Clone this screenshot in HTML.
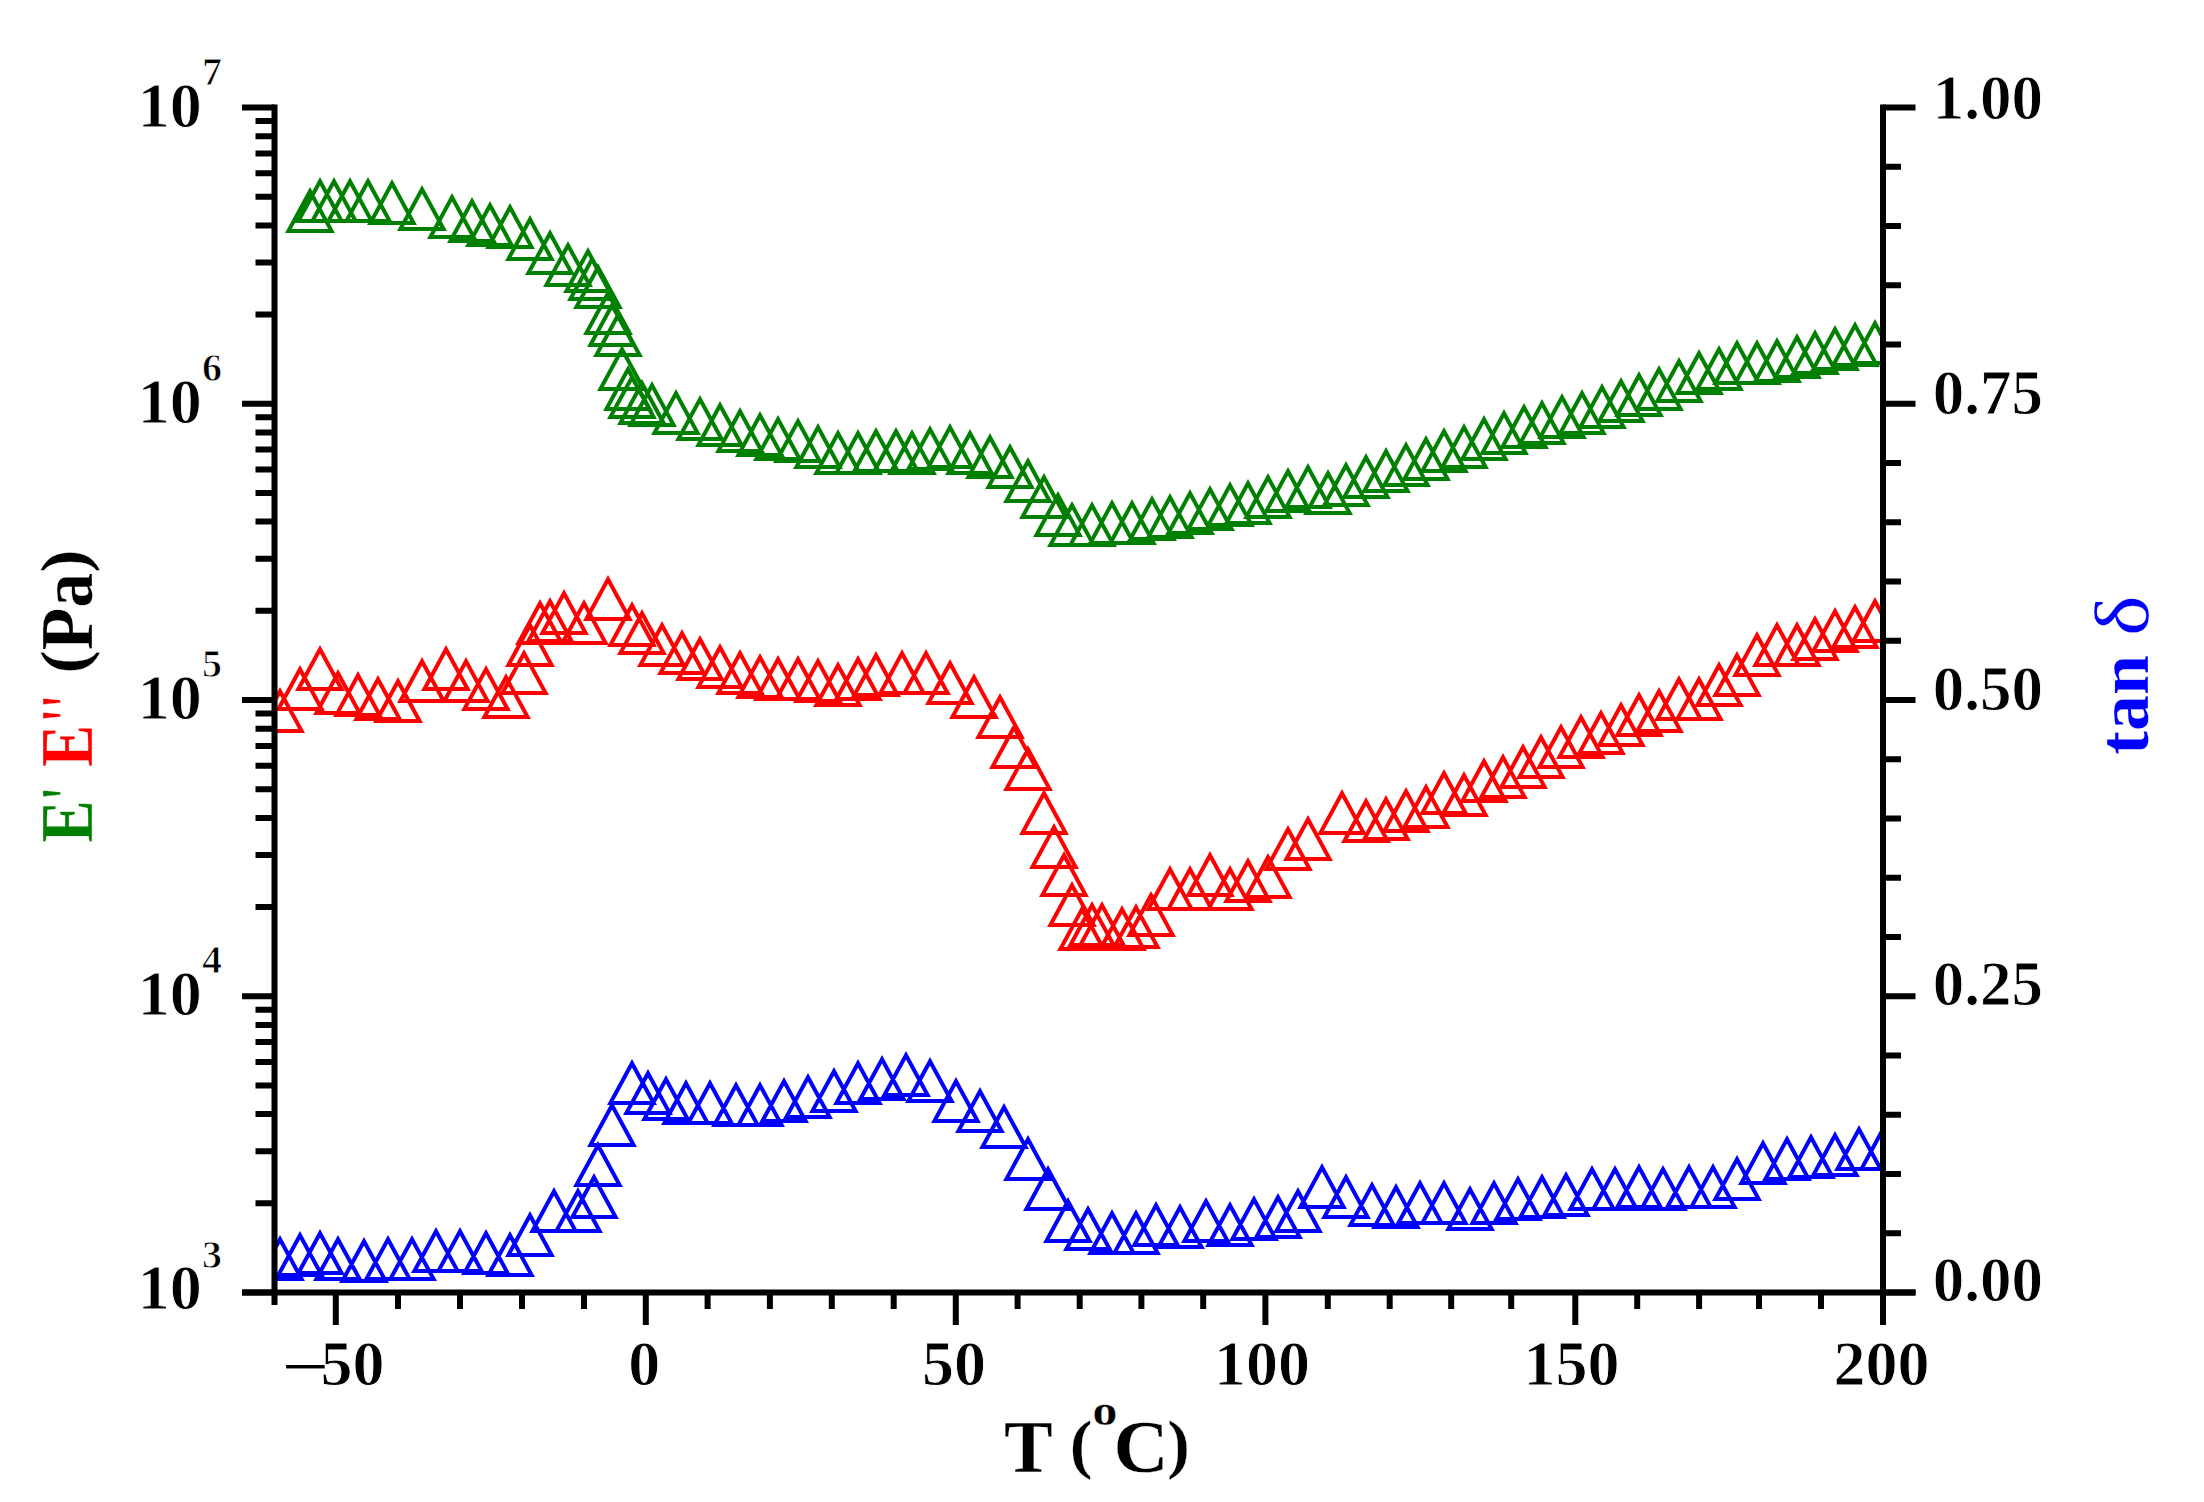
<!DOCTYPE html>
<html lang="en"><head><meta charset="utf-8"><title>E' E'' and tan δ vs T</title>
<style>html,body{margin:0;padding:0;background:#fff}body{width:2204px;height:1502px;overflow:hidden}svg{display:block}text{font-family:"Liberation Serif","DejaVu Serif",serif;font-weight:bold;stroke:#fff;stroke-width:.9px;paint-order:fill stroke}.ttl text{stroke-width:.3px}</style></head><body>
<svg width="2204" height="1502" viewBox="0 0 2204 1502">
<rect width="2204" height="1502" fill="#fff"/>
<defs><clipPath id="plot"><rect x="274.5" y="107.5" width="1608.5" height="1185.0"/></clipPath></defs>
<g clip-path="url(#plot)" fill="none" stroke-width="4.0" stroke-linejoin="miter">
<path stroke="#0000ff" d="M280.0 1239.2L258.4 1279.0L301.6 1279.0ZM300.0 1235.2L278.4 1275.0L321.6 1275.0ZM320.0 1233.2L298.4 1273.0L341.6 1273.0ZM338.0 1239.2L316.4 1279.0L359.6 1279.0ZM364.0 1241.2L342.4 1281.0L385.6 1281.0ZM388.0 1239.2L366.4 1279.0L409.6 1279.0ZM412.0 1239.2L390.4 1279.0L433.6 1279.0ZM436.0 1231.2L414.4 1271.0L457.6 1271.0ZM460.0 1231.2L438.4 1271.0L481.6 1271.0ZM486.0 1233.2L464.4 1273.0L507.6 1273.0ZM510.0 1235.2L488.4 1275.0L531.6 1275.0ZM530.0 1215.2L508.4 1255.0L551.6 1255.0ZM554.0 1191.2L532.4 1231.0L575.6 1231.0ZM578.0 1191.2L556.4 1231.0L599.6 1231.0ZM594.0 1177.2L572.4 1217.0L615.6 1217.0ZM598.0 1145.2L576.4 1185.0L619.6 1185.0ZM612.0 1105.2L590.4 1145.0L633.6 1145.0ZM632.0 1063.2L610.4 1103.0L653.6 1103.0ZM648.0 1073.2L626.4 1113.0L669.6 1113.0ZM666.0 1079.2L644.4 1119.0L687.6 1119.0ZM686.0 1083.2L664.4 1123.0L707.6 1123.0ZM710.0 1083.2L688.4 1123.0L731.6 1123.0ZM736.0 1085.2L714.4 1125.0L757.6 1125.0ZM760.0 1085.2L738.4 1125.0L781.6 1125.0ZM784.0 1081.2L762.4 1121.0L805.6 1121.0ZM808.0 1077.2L786.4 1117.0L829.6 1117.0ZM834.0 1071.2L812.4 1111.0L855.6 1111.0ZM858.0 1063.2L836.4 1103.0L879.6 1103.0ZM882.0 1059.2L860.4 1099.0L903.6 1099.0ZM906.0 1055.2L884.4 1095.0L927.6 1095.0ZM930.0 1061.2L908.4 1101.0L951.6 1101.0ZM956.0 1081.2L934.4 1121.0L977.6 1121.0ZM980.0 1091.2L958.4 1131.0L1001.6 1131.0ZM1004.0 1107.2L982.4 1147.0L1025.6 1147.0ZM1028.0 1139.2L1006.4 1179.0L1049.6 1179.0ZM1048.0 1169.2L1026.4 1209.0L1069.6 1209.0ZM1068.0 1201.2L1046.4 1241.0L1089.6 1241.0ZM1088.0 1209.2L1066.4 1249.0L1109.6 1249.0ZM1112.0 1213.2L1090.4 1253.0L1133.6 1253.0ZM1136.0 1213.2L1114.4 1253.0L1157.6 1253.0ZM1156.0 1205.2L1134.4 1245.0L1177.6 1245.0ZM1180.0 1207.2L1158.4 1247.0L1201.6 1247.0ZM1206.0 1201.2L1184.4 1241.0L1227.6 1241.0ZM1230.0 1205.2L1208.4 1245.0L1251.6 1245.0ZM1254.0 1199.2L1232.4 1239.0L1275.6 1239.0ZM1278.0 1197.2L1256.4 1237.0L1299.6 1237.0ZM1298.0 1191.2L1276.4 1231.0L1319.6 1231.0ZM1322.0 1167.2L1300.4 1207.0L1343.6 1207.0ZM1346.0 1177.2L1324.4 1217.0L1367.6 1217.0ZM1372.0 1185.2L1350.4 1225.0L1393.6 1225.0ZM1396.0 1187.2L1374.4 1227.0L1417.6 1227.0ZM1420.0 1183.2L1398.4 1223.0L1441.6 1223.0ZM1444.0 1183.2L1422.4 1223.0L1465.6 1223.0ZM1470.0 1189.2L1448.4 1229.0L1491.6 1229.0ZM1494.0 1183.2L1472.4 1223.0L1515.6 1223.0ZM1518.0 1179.2L1496.4 1219.0L1539.6 1219.0ZM1542.0 1177.2L1520.4 1217.0L1563.6 1217.0ZM1566.0 1175.2L1544.4 1215.0L1587.6 1215.0ZM1592.0 1169.2L1570.4 1209.0L1613.6 1209.0ZM1615.0 1169.2L1593.4 1209.0L1636.6 1209.0ZM1639.0 1167.2L1617.4 1207.0L1660.6 1207.0ZM1663.0 1169.2L1641.4 1209.0L1684.6 1209.0ZM1689.0 1167.2L1667.4 1207.0L1710.6 1207.0ZM1713.0 1167.2L1691.4 1207.0L1734.6 1207.0ZM1737.0 1159.2L1715.4 1199.0L1758.6 1199.0ZM1763.0 1143.2L1741.4 1183.0L1784.6 1183.0ZM1787.0 1139.2L1765.4 1179.0L1808.6 1179.0ZM1811.0 1137.2L1789.4 1177.0L1832.6 1177.0ZM1835.0 1135.2L1813.4 1175.0L1856.6 1175.0ZM1859.0 1129.2L1837.4 1169.0L1880.6 1169.0ZM1883.0 1129.2L1861.4 1169.0L1904.6 1169.0Z"/>
<path stroke="#ff0000" d="M280.0 691.2L258.4 731.0L301.6 731.0ZM300.0 669.2L278.4 709.0L321.6 709.0ZM320.0 649.2L298.4 689.0L341.6 689.0ZM338.0 673.2L316.4 713.0L359.6 713.0ZM358.0 675.2L336.4 715.0L379.6 715.0ZM378.0 679.2L356.4 719.0L399.6 719.0ZM398.0 681.2L376.4 721.0L419.6 721.0ZM422.0 661.2L400.4 701.0L443.6 701.0ZM446.0 649.2L424.4 689.0L467.6 689.0ZM466.0 661.2L444.4 701.0L487.6 701.0ZM486.0 669.2L464.4 709.0L507.6 709.0ZM506.0 677.2L484.4 717.0L527.6 717.0ZM524.0 653.2L502.4 693.0L545.6 693.0ZM530.0 625.2L508.4 665.0L551.6 665.0ZM540.0 603.2L518.4 643.0L561.6 643.0ZM550.0 601.2L528.4 641.0L571.6 641.0ZM564.0 593.2L542.4 633.0L585.6 633.0ZM584.0 603.2L562.4 643.0L605.6 643.0ZM608.0 579.2L586.4 619.0L629.6 619.0ZM632.0 605.2L610.4 645.0L653.6 645.0ZM642.0 613.2L620.4 653.0L663.6 653.0ZM662.0 625.2L640.4 665.0L683.6 665.0ZM682.0 633.2L660.4 673.0L703.6 673.0ZM700.0 639.2L678.4 679.0L721.6 679.0ZM720.0 647.2L698.4 687.0L741.6 687.0ZM740.0 653.2L718.4 693.0L761.6 693.0ZM760.0 657.2L738.4 697.0L781.6 697.0ZM778.0 659.2L756.4 699.0L799.6 699.0ZM798.0 659.2L776.4 699.0L819.6 699.0ZM818.0 661.2L796.4 701.0L839.6 701.0ZM838.0 665.2L816.4 705.0L859.6 705.0ZM858.0 659.2L836.4 699.0L879.6 699.0ZM876.0 655.2L854.4 695.0L897.6 695.0ZM902.0 653.2L880.4 693.0L923.6 693.0ZM926.0 653.2L904.4 693.0L947.6 693.0ZM950.0 663.2L928.4 703.0L971.6 703.0ZM974.0 677.2L952.4 717.0L995.6 717.0ZM1000.0 697.2L978.4 737.0L1021.6 737.0ZM1014.0 727.2L992.4 767.0L1035.6 767.0ZM1028.0 749.2L1006.4 789.0L1049.6 789.0ZM1044.0 793.2L1022.4 833.0L1065.6 833.0ZM1054.0 827.2L1032.4 867.0L1075.6 867.0ZM1064.0 855.2L1042.4 895.0L1085.6 895.0ZM1072.0 885.2L1050.4 925.0L1093.6 925.0ZM1082.0 909.2L1060.4 949.0L1103.6 949.0ZM1092.0 905.2L1070.4 945.0L1113.6 945.0ZM1102.0 905.2L1080.4 945.0L1123.6 945.0ZM1122.0 909.2L1100.4 949.0L1143.6 949.0ZM1136.0 907.2L1114.4 947.0L1157.6 947.0ZM1151.0 895.2L1129.4 935.0L1172.6 935.0ZM1170.0 869.2L1148.4 909.0L1191.6 909.0ZM1190.0 869.2L1168.4 909.0L1211.6 909.0ZM1210.0 855.2L1188.4 895.0L1231.6 895.0ZM1230.0 869.2L1208.4 909.0L1251.6 909.0ZM1248.0 861.2L1226.4 901.0L1269.6 901.0ZM1268.0 857.2L1246.4 897.0L1289.6 897.0ZM1288.0 829.2L1266.4 869.0L1309.6 869.0ZM1308.0 819.2L1286.4 859.0L1329.6 859.0ZM1342.0 793.2L1320.4 833.0L1363.6 833.0ZM1366.0 801.2L1344.4 841.0L1387.6 841.0ZM1386.0 799.2L1364.4 839.0L1407.6 839.0ZM1406.0 791.2L1384.4 831.0L1427.6 831.0ZM1426.0 787.2L1404.4 827.0L1447.6 827.0ZM1444.0 773.2L1422.4 813.0L1465.6 813.0ZM1464.0 775.2L1442.4 815.0L1485.6 815.0ZM1484.0 761.2L1462.4 801.0L1505.6 801.0ZM1503.0 757.2L1481.4 797.0L1524.6 797.0ZM1523.0 747.2L1501.4 787.0L1544.6 787.0ZM1541.0 737.2L1519.4 777.0L1562.6 777.0ZM1561.0 727.2L1539.4 767.0L1582.6 767.0ZM1581.0 717.2L1559.4 757.0L1602.6 757.0ZM1601.0 713.2L1579.4 753.0L1622.6 753.0ZM1621.0 705.2L1599.4 745.0L1642.6 745.0ZM1639.0 695.2L1617.4 735.0L1660.6 735.0ZM1659.0 691.2L1637.4 731.0L1680.6 731.0ZM1679.0 679.2L1657.4 719.0L1700.6 719.0ZM1699.0 679.2L1677.4 719.0L1720.6 719.0ZM1719.0 665.2L1697.4 705.0L1740.6 705.0ZM1737.0 655.2L1715.4 695.0L1758.6 695.0ZM1757.0 635.2L1735.4 675.0L1778.6 675.0ZM1777.0 625.2L1755.4 665.0L1798.6 665.0ZM1797.0 625.2L1775.4 665.0L1818.6 665.0ZM1815.0 619.2L1793.4 659.0L1836.6 659.0ZM1835.0 611.2L1813.4 651.0L1856.6 651.0ZM1855.0 607.2L1833.4 647.0L1876.6 647.0ZM1875.0 601.2L1853.4 641.0L1896.6 641.0Z"/>
<path stroke="#008000" d="M310.0 191.2L288.4 231.0L331.6 231.0ZM320.0 181.2L298.4 221.0L341.6 221.0ZM334.0 181.2L312.4 221.0L355.6 221.0ZM350.0 181.2L328.4 221.0L371.6 221.0ZM368.0 181.2L346.4 221.0L389.6 221.0ZM392.0 183.2L370.4 223.0L413.6 223.0ZM422.0 189.2L400.4 229.0L443.6 229.0ZM452.0 197.2L430.4 237.0L473.6 237.0ZM472.0 201.2L450.4 241.0L493.6 241.0ZM490.0 205.2L468.4 245.0L511.6 245.0ZM510.0 207.2L488.4 247.0L531.6 247.0ZM530.0 219.2L508.4 259.0L551.6 259.0ZM550.0 233.2L528.4 273.0L571.6 273.0ZM568.0 245.2L546.4 285.0L589.6 285.0ZM588.0 251.2L566.4 291.0L609.6 291.0ZM592.0 259.2L570.4 299.0L613.6 299.0ZM598.0 267.2L576.4 307.0L619.6 307.0ZM608.0 293.2L586.4 333.0L629.6 333.0ZM612.0 305.2L590.4 345.0L633.6 345.0ZM618.0 315.2L596.4 355.0L639.6 355.0ZM622.0 349.2L600.4 389.0L643.6 389.0ZM628.0 369.2L606.4 409.0L649.6 409.0ZM632.0 377.2L610.4 417.0L653.6 417.0ZM642.0 383.2L620.4 423.0L663.6 423.0ZM652.0 385.2L630.4 425.0L673.6 425.0ZM676.0 393.2L654.4 433.0L697.6 433.0ZM700.0 399.2L678.4 439.0L721.6 439.0ZM720.0 405.2L698.4 445.0L741.6 445.0ZM740.0 411.2L718.4 451.0L761.6 451.0ZM760.0 415.2L738.4 455.0L781.6 455.0ZM778.0 419.2L756.4 459.0L799.6 459.0ZM798.0 421.2L776.4 461.0L819.6 461.0ZM818.0 427.2L796.4 467.0L839.6 467.0ZM838.0 433.2L816.4 473.0L859.6 473.0ZM858.0 433.2L836.4 473.0L879.6 473.0ZM876.0 431.2L854.4 471.0L897.6 471.0ZM896.0 431.2L874.4 471.0L917.6 471.0ZM912.0 433.2L890.4 473.0L933.6 473.0ZM930.0 429.2L908.4 469.0L951.6 469.0ZM950.0 427.2L928.4 467.0L971.6 467.0ZM970.0 433.2L948.4 473.0L991.6 473.0ZM990.0 437.2L968.4 477.0L1011.6 477.0ZM1010.0 447.2L988.4 487.0L1031.6 487.0ZM1028.0 461.2L1006.4 501.0L1049.6 501.0ZM1044.0 477.2L1022.4 517.0L1065.6 517.0ZM1058.0 495.2L1036.4 535.0L1079.6 535.0ZM1072.0 505.2L1050.4 545.0L1093.6 545.0ZM1092.0 505.2L1070.4 545.0L1113.6 545.0ZM1112.0 503.2L1090.4 543.0L1133.6 543.0ZM1132.0 503.2L1110.4 543.0L1153.6 543.0ZM1152.0 499.2L1130.4 539.0L1173.6 539.0ZM1170.0 497.2L1148.4 537.0L1191.6 537.0ZM1190.0 493.2L1168.4 533.0L1211.6 533.0ZM1210.0 489.2L1188.4 529.0L1231.6 529.0ZM1230.0 485.2L1208.4 525.0L1251.6 525.0ZM1248.0 483.2L1226.4 523.0L1269.6 523.0ZM1268.0 477.2L1246.4 517.0L1289.6 517.0ZM1288.0 471.2L1266.4 511.0L1309.6 511.0ZM1308.0 467.2L1286.4 507.0L1329.6 507.0ZM1328.0 473.2L1306.4 513.0L1349.6 513.0ZM1346.0 465.2L1324.4 505.0L1367.6 505.0ZM1366.0 457.2L1344.4 497.0L1387.6 497.0ZM1386.0 451.2L1364.4 491.0L1407.6 491.0ZM1406.0 445.2L1384.4 485.0L1427.6 485.0ZM1426.0 439.2L1404.4 479.0L1447.6 479.0ZM1444.0 431.2L1422.4 471.0L1465.6 471.0ZM1464.0 427.2L1442.4 467.0L1485.6 467.0ZM1484.0 419.2L1462.4 459.0L1505.6 459.0ZM1504.0 413.2L1482.4 453.0L1525.6 453.0ZM1524.0 407.2L1502.4 447.0L1545.6 447.0ZM1542.0 403.2L1520.4 443.0L1563.6 443.0ZM1562.0 397.2L1540.4 437.0L1583.6 437.0ZM1582.0 393.2L1560.4 433.0L1603.6 433.0ZM1602.0 387.2L1580.4 427.0L1623.6 427.0ZM1621.0 381.2L1599.4 421.0L1642.6 421.0ZM1639.0 375.2L1617.4 415.0L1660.6 415.0ZM1659.0 369.2L1637.4 409.0L1680.6 409.0ZM1679.0 361.2L1657.4 401.0L1700.6 401.0ZM1699.0 353.2L1677.4 393.0L1720.6 393.0ZM1719.0 349.2L1697.4 389.0L1740.6 389.0ZM1737.0 343.2L1715.4 383.0L1758.6 383.0ZM1757.0 343.2L1735.4 383.0L1778.6 383.0ZM1777.0 341.2L1755.4 381.0L1798.6 381.0ZM1797.0 337.2L1775.4 377.0L1818.6 377.0ZM1815.0 333.2L1793.4 373.0L1836.6 373.0ZM1835.0 329.2L1813.4 369.0L1856.6 369.0ZM1855.0 325.2L1833.4 365.0L1876.6 365.0ZM1875.0 323.2L1853.4 363.0L1896.6 363.0Z"/>
</g>
<g stroke="#000" fill="none" stroke-linecap="butt">
<path stroke-width="6" d="M274.5 104.5V1305.0M1883.0 104.5V1325.0M242.0 1292.5H1915.5"/>
<path stroke-width="6" d="M242.0 1292.5H274.5M255.5 1203.3H274.5M255.5 1151.2H274.5M255.5 1114.1H274.5M255.5 1085.4H274.5M255.5 1062.0H274.5M255.5 1042.1H274.5M255.5 1025.0H274.5M255.5 1009.8H274.5M242.0 996.2H274.5M255.5 907.1H274.5M255.5 854.9H274.5M255.5 817.9H274.5M255.5 789.2H274.5M255.5 765.7H274.5M255.5 745.9H274.5M255.5 728.7H274.5M255.5 713.6H274.5M242.0 700.0H274.5M255.5 610.8H274.5M255.5 558.7H274.5M255.5 521.6H274.5M255.5 492.9H274.5M255.5 469.5H274.5M255.5 449.6H274.5M255.5 432.5H274.5M255.5 417.3H274.5M242.0 403.8H274.5M255.5 314.6H274.5M255.5 262.4H274.5M255.5 225.4H274.5M255.5 196.7H274.5M255.5 173.2H274.5M255.5 153.4H274.5M255.5 136.2H274.5M255.5 121.1H274.5M242.0 107.5H274.5M1883.0 1292.5H1915.5M1883.0 1233.2H1901.0M1883.0 1174.0H1901.0M1883.0 1114.8H1901.0M1883.0 1055.5H1901.0M1883.0 996.2H1915.5M1883.0 937.0H1901.0M1883.0 877.8H1901.0M1883.0 818.5H1901.0M1883.0 759.2H1901.0M1883.0 700.0H1915.5M1883.0 640.8H1901.0M1883.0 581.5H1901.0M1883.0 522.2H1901.0M1883.0 463.0H1901.0M1883.0 403.8H1915.5M1883.0 344.5H1901.0M1883.0 285.2H1901.0M1883.0 226.0H1901.0M1883.0 166.8H1901.0M1883.0 107.5H1915.5M335.8 1292.5V1325.0M398.0 1292.5V1309.0M460.0 1292.5V1309.0M522.0 1292.5V1309.0M584.0 1292.5V1309.0M645.8 1292.5V1325.0M707.6 1292.5V1309.0M769.9 1292.5V1309.0M831.8 1292.5V1309.0M893.7 1292.5V1309.0M955.8 1292.5V1325.0M1017.6 1292.5V1309.0M1079.7 1292.5V1309.0M1141.4 1292.5V1309.0M1203.2 1292.5V1309.0M1265.4 1292.5V1325.0M1327.8 1292.5V1309.0M1389.7 1292.5V1309.0M1451.2 1292.5V1309.0M1511.2 1292.5V1309.0M1575.3 1292.5V1325.0M1637.2 1292.5V1309.0M1699.1 1292.5V1309.0M1759.0 1292.5V1309.0M1821.0 1292.5V1309.0"/>
</g>
<g fill="#000" font-size="64">
<text x="137.7" y="1309.4">10</text><text x="202" y="1267.6" font-size="40">3</text>
<text x="137.7" y="1014.5">10</text><text x="202" y="972.7" font-size="40">4</text>
<text x="137.7" y="719.2">10</text><text x="202" y="677.4" font-size="40">5</text>
<text x="137.7" y="423.0">10</text><text x="202" y="381.2" font-size="40">6</text>
<text x="137.7" y="126.6">10</text><text x="202" y="84.8" font-size="40">7</text>
<text x="2043" y="1300.7" text-anchor="end" font-size="63">0.00</text>
<text x="2043" y="1005.2" text-anchor="end" font-size="63">0.25</text>
<text x="2043" y="709.6" text-anchor="end" font-size="63">0.50</text>
<text x="2043" y="414.0" text-anchor="end" font-size="63">0.75</text>
<text x="2043" y="118.5" text-anchor="end" font-size="63">1.00</text>
<text transform="translate(280.9 1388) scale(1.34 1)">−</text><text x="320.5" y="1385">50</text>
<text x="644.2" y="1385" text-anchor="middle">0</text>
<text x="954.0" y="1385" text-anchor="middle">50</text>
<text x="1262.0" y="1385" text-anchor="middle">100</text>
<text x="1571.6" y="1385" text-anchor="middle">150</text>
<text x="1881.4" y="1385" text-anchor="middle">200</text>
</g>
<g font-size="73" class="ttl">
<g fill="#000"><text x="1004" y="1471.5">T</text><text transform="matrix(0.93 0 0 0.885 1069.8 1465.72)">(</text><text transform="translate(1092.6 1425) scale(1.13 1)" font-size="44">o</text><text transform="translate(1113.5 1471.5) scale(1.045 1)">C</text><text transform="matrix(0.93 0 0 0.885 1167.2 1465.72)">)</text></g>
<g transform="translate(91.5 843) rotate(-90)"><text transform="translate(0.4 0) scale(0.867 1)" fill="#008000">E</text><text transform="translate(43 0) scale(0.65 1)" fill="#008000">'</text><text transform="translate(76.1 0) scale(0.867 1)" fill="#ff0000">E</text><text transform="translate(121 0) scale(0.65 1)" fill="#ff0000">'</text><text transform="translate(135.1 0) scale(0.65 1)" fill="#ff0000">'</text><g transform="translate(169.5 0) scale(0.955 1)" fill="#000"><text transform="matrix(1 0 0 0.885 0 -5.78)">(</text><text x="24.31" y="0">Pa</text><text transform="matrix(1 0 0 0.885 105.41 -5.78)">)</text></g></g>
<g transform="translate(2148 755) rotate(-90)" fill="#0000ff"><text x="0" y="0" font-size="72">tan</text><text transform="translate(119 0) scale(1.12 1)" font-size="77" style="font-weight:normal">δ</text></g>
</g>
</svg></body></html>
